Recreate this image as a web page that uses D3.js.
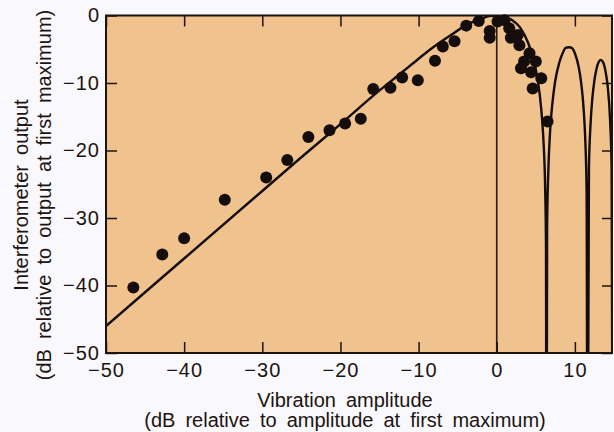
<!DOCTYPE html>
<html>
<head>
<meta charset="utf-8">
<script src="https://cdn.jsdelivr.net/npm/d3@7"></script>
<style>
body { margin: 0; background: #f9f8fc; }
svg text { font-family: "Liberation Sans", Arial, sans-serif; fill: #1c1410; }
</style>
</head>
<body>
<div id="chart"></div>
<script>
// measured points (dB relative to first maximum)
var ampDb = [-46.5, -42.8, -40.0, -34.8, -29.5, -26.8, -24.1, -21.4, -19.4, -17.4,
    -15.8, -13.6, -12.1, -10.1, -7.9, -6.9, -5.4, -3.9, -2.3, -0.9, -0.9,
    0.1, 1.0, 1.6, 1.8, 2.7, 2.9, 4.2, 5.0, 3.5, 3.1, 4.4, 5.7, 4.6, 6.5];
var outDb = [-40.3, -35.4, -33.0, -27.3, -24.0, -21.4, -18.0, -17.0, -16.0, -15.3,
    -10.9, -10.7, -9.2, -9.6, -6.7, -4.6, -3.8, -1.5, -0.8, -2.3, -3.3,
    -0.9, -0.7, -1.9, -3.3, -2.9, -4.4, -5.6, -6.8, -6.8, -7.8, -8.4, -9.3, -10.8, -15.7];

// theoretical curve (nulls drop below the frame)
var curveAmp = [-50, -40, -30, -25, -20, -15, -12, -10, -8, -6, -4, -3, -2, -1, 0,
    1, 2, 3, 4, 4.5, 5, 5.5, 5.8, 6, 6.2, 6.3, 6.37, 6.45, 6.6, 6.8, 7, 7.25, 7.5,
    8, 8.5, 8.8, 9.24, 9.6, 10, 10.5, 10.75, 11, 11.15, 11.3, 11.5, 11.62, 11.8,
    12, 12.25, 12.5, 12.75, 13, 13.32, 13.6, 13.8, 14, 14.2, 14.5, 14.7, 14.85];
var curveOut = [-46.0, -36.0, -26.0, -21.0, -16.1, -11.1, -8.3, -6.4, -4.6, -3.0, -1.5, -0.9, -0.5, -0.1, 0,
    -0.2, -0.7, -1.8, -4.0, -5.7, -8.0, -11.7, -15.3, -19.0, -25.8, -33.8, -80, -31.2, -23.1, -17.7, -14.5, -11.7, -9.6,
    -7.0, -5.4, -4.8, -4.7, -4.8, -5.6, -7.7, -9.5, -12.1, -14.4, -17.6, -26.0, -80, -22.6,
    -16.2, -12.1, -9.6, -8.0, -7.0, -6.6, -6.9, -7.6, -8.8, -10.5, -15.4, -22.5, -80];

var xTicks = [-50, -40, -30, -20, -10, 0, 10];
var yTicks = [0, -10, -20, -30, -40, -50];

var width = 614, height = 432;
var plotLeft = 106, plotRight = 612, plotTop = 15.5, plotBottom = 353;
var ink = "#1c1410";

var svg = d3.select("#chart").append("svg")
    .attr("width", width)
    .attr("height", height);

var x = d3.scaleLinear().domain([-50, 14.75]).range([plotLeft, plotRight]);
var y = d3.scaleLinear().domain([-50, 0]).range([plotBottom, plotTop]);

// plot background
svg.append("rect")
    .attr("x", plotLeft).attr("y", plotTop)
    .attr("width", plotRight - plotLeft).attr("height", plotBottom - plotTop)
    .attr("fill", "#f0c28d");

svg.append("clipPath").attr("id", "plotclip")
    .append("rect")
    .attr("x", plotLeft).attr("y", plotTop)
    .attr("width", plotRight - plotLeft).attr("height", plotBottom - plotTop);

// zero amplitude line
svg.append("line")
    .attr("x1", x(0)).attr("x2", x(0))
    .attr("y1", y(0)).attr("y2", y(-50))
    .attr("stroke", "#2a1a12").attr("stroke-width", 1.6);

// axes, ticks point inward
function styleAxis(g) {
    g.select(".domain").remove();
    g.selectAll(".tick line").attr("stroke", ink).attr("stroke-width", 1.5);
    g.selectAll(".tick text")
        .attr("fill", ink)
        .style("font-family", "'Liberation Sans', Arial, sans-serif")
        .style("font-size", "20px")
        .style("letter-spacing", "1px");
}

svg.append("g")
    .attr("transform", "translate(" + plotLeft + ",0)")
    .call(d3.axisLeft(y).tickValues(yTicks).tickSizeInner(-11).tickSizeOuter(0).tickPadding(6))
    .call(styleAxis);

svg.append("g")
    .attr("transform", "translate(" + plotRight + ",0)")
    .call(d3.axisRight(y).tickValues(yTicks).tickSizeInner(-10).tickSizeOuter(0).tickFormat(""))
    .call(styleAxis);

svg.append("g")
    .attr("transform", "translate(0," + plotBottom + ")")
    .call(d3.axisBottom(x).tickValues(xTicks).tickSizeInner(-11).tickSizeOuter(0).tickPadding(10))
    .call(styleAxis);

svg.append("g")
    .attr("transform", "translate(0," + plotTop + ")")
    .call(d3.axisTop(x).tickValues(xTicks).tickSizeInner(-11).tickSizeOuter(0).tickFormat(""))
    .call(styleAxis);

// theory curve
var line = d3.line()
    .x(function (d) { return x(d[0]); })
    .y(function (d) { return y(d[1]); })
    .curve(d3.curveMonotoneX);

svg.append("path")
    .datum(d3.zip(curveAmp, curveOut))
    .attr("clip-path", "url(#plotclip)")
    .attr("d", line)
    .attr("fill", "none")
    .attr("stroke", "#140c0a")
    .attr("stroke-width", 2.4)
    .attr("stroke-linejoin", "round");

// frame
svg.append("rect")
    .attr("x", plotLeft).attr("y", plotTop)
    .attr("width", plotRight - plotLeft).attr("height", plotBottom - plotTop)
    .attr("fill", "none")
    .attr("stroke", ink)
    .attr("stroke-width", 2);

// measured dots
svg.append("g").selectAll("circle")
    .data(d3.zip(ampDb, outDb))
    .enter().append("circle")
    .attr("cx", function (d) { return x(d[0]); })
    .attr("cy", function (d) { return y(d[1]); })
    .attr("r", 6)
    .attr("fill", "#150d0b");

// axis titles
var xt = svg.append("text")
    .attr("text-anchor", "middle")
    .style("font-size", "20px")
    .style("word-spacing", "4.5px");
xt.append("tspan").attr("x", 345).attr("y", 407).text("Vibration amplitude");
xt.append("tspan").attr("x", 345).attr("y", 427).text("(dB relative to amplitude at first maximum)");

svg.append("text")
    .attr("transform", "translate(28,195) rotate(-90)")
    .attr("text-anchor", "middle")
    .style("font-size", "20px")
    .style("word-spacing", "4.5px")
    .text("Interferometer output");

svg.append("text")
    .attr("transform", "translate(51,195) rotate(-90)")
    .attr("text-anchor", "middle")
    .style("font-size", "20px")
    .style("word-spacing", "4.5px")
    .text("(dB relative to output at first maximum)");
</script>
</body>
</html>
